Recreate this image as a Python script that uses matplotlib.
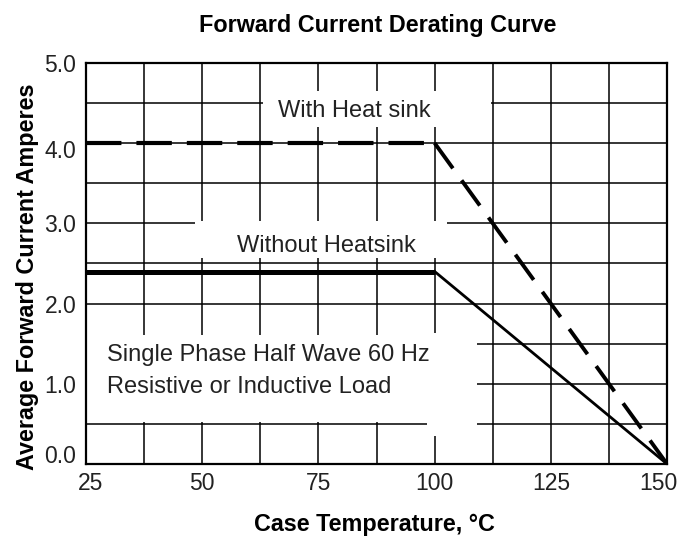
import matplotlib
matplotlib.use("Agg")
import matplotlib.pyplot as plt
from matplotlib.patches import Rectangle
from matplotlib.transforms import ScaledTranslation
import numpy as np

# derating curves (case temperature degC, current A)
with_sink_temp = [25, 100, 150]
with_sink_amps = [4.0, 4.0, 0.0]
without_sink_temp = [25, 100, 150]
without_sink_amps = [2.4, 2.4, 0.0]

x_ticks = [25, 50, 75, 100, 125, 150]
y_ticks = [0, 1, 2, 3, 4, 5]
y_tick_labels = ["0.0", "1.0", "2.0", "3.0", "4.0", "5.0"]

plt.rcParams['font.family'] = ['Liberation Sans', 'DejaVu Sans']
ink = '#222222'

fig = plt.figure(figsize=(6.8, 5.38), dpi=100)
ax = fig.add_axes([0.1265, 0.1375, 0.8545, 0.7455])

ax.set_xlim(25, 150)
ax.set_ylim(0, 5)
ax.set_xticks(x_ticks)
ax.set_yticks(y_ticks)
ax.set_yticklabels(y_tick_labels)
ax.set_xticks(np.arange(25, 151, 12.5), minor=True)
ax.set_yticks(np.arange(0, 5.01, 0.5), minor=True)
ax.tick_params(which='both', length=0, labelsize=16.5, labelcolor=ink)
ax.tick_params(axis='x', pad=6)
ax.tick_params(axis='y', pad=7)
ax.grid(which='both', color='black', linewidth=1.1)
ax.set_axisbelow(True)
for s in ax.spines.values():
    s.set_linewidth(1.6)


def nudge(label, dx, dy):
    # shift a tick label by a few pixels (the original places them by hand)
    label.set_transform(label.get_transform() + ScaledTranslation(dx / 100, dy / 100, fig.dpi_scale_trans))


xlabels = ax.get_xticklabels()
nudge(xlabels[0], 5, 0)
nudge(xlabels[-1], -9, 0)
ylabels = ax.get_yticklabels()
nudge(ylabels[0], 0, 10)
nudge(ylabels[4], 0, -6)

# white boxes behind the labels that break the grid
boxes = [(63.0, 4.2, 49.2, 0.45),
         (48.4, 2.57, 54.3, 0.46),
         (25.0, 0.65, 12.0, 0.96),
         (37.0, 0.53, 71.0, 1.08),
         (98.4, 0.35, 10.7, 1.28)]
for bx, by, bw, bh in boxes:
    ax.add_patch(Rectangle((bx, by), bw, bh, facecolor='white', edgecolor='none', zorder=1.5))

# with heat sink: dashed
ax.plot(with_sink_temp[:2], with_sink_amps[:2], color='black', linewidth=3.0,
        dashes=(8.5, 3.6), zorder=3)
ax.plot(with_sink_temp[1:], with_sink_amps[1:], color='black', linewidth=2.8,
        dashes=(8.0, 3.8), zorder=3)
# without heat sink: solid
ax.plot(without_sink_temp[:2], without_sink_amps[:2], color='black', linewidth=3.6,
        solid_capstyle='butt', zorder=3)
ax.plot(without_sink_temp[1:], without_sink_amps[1:], color='black', linewidth=2.0, zorder=3)

ax.text(82.8, 4.33, "With Heat sink", ha='center', va='baseline', fontsize=17, color=ink, zorder=4)
ax.text(76.7, 2.64, "Without Heatsink", ha='center', va='baseline', fontsize=17, color=ink, zorder=4)
ax.text(29.6, 1.28, "Single Phase Half Wave 60 Hz", ha='left', va='baseline', fontsize=17, color=ink, zorder=4)
ax.text(29.6, 0.885, "Resistive or Inductive Load", ha='left', va='baseline', fontsize=17, color=ink, zorder=4)

fig.text(0.556, 0.9405, "Forward Current Derating Curve", ha='center', va='baseline',
         fontsize=16.8, fontweight='bold')
fig.text(0.551, 0.013, "Case Temperature, \u00b0C", ha='center', va='baseline',
         fontsize=16.8, fontweight='bold')
fig.text(0.041, 0.485, "Average Forward Current Amperes", ha='center', va='center',
         rotation=90, fontsize=16.8, fontweight='bold')

fig.savefig("out.png", dpi=100)
